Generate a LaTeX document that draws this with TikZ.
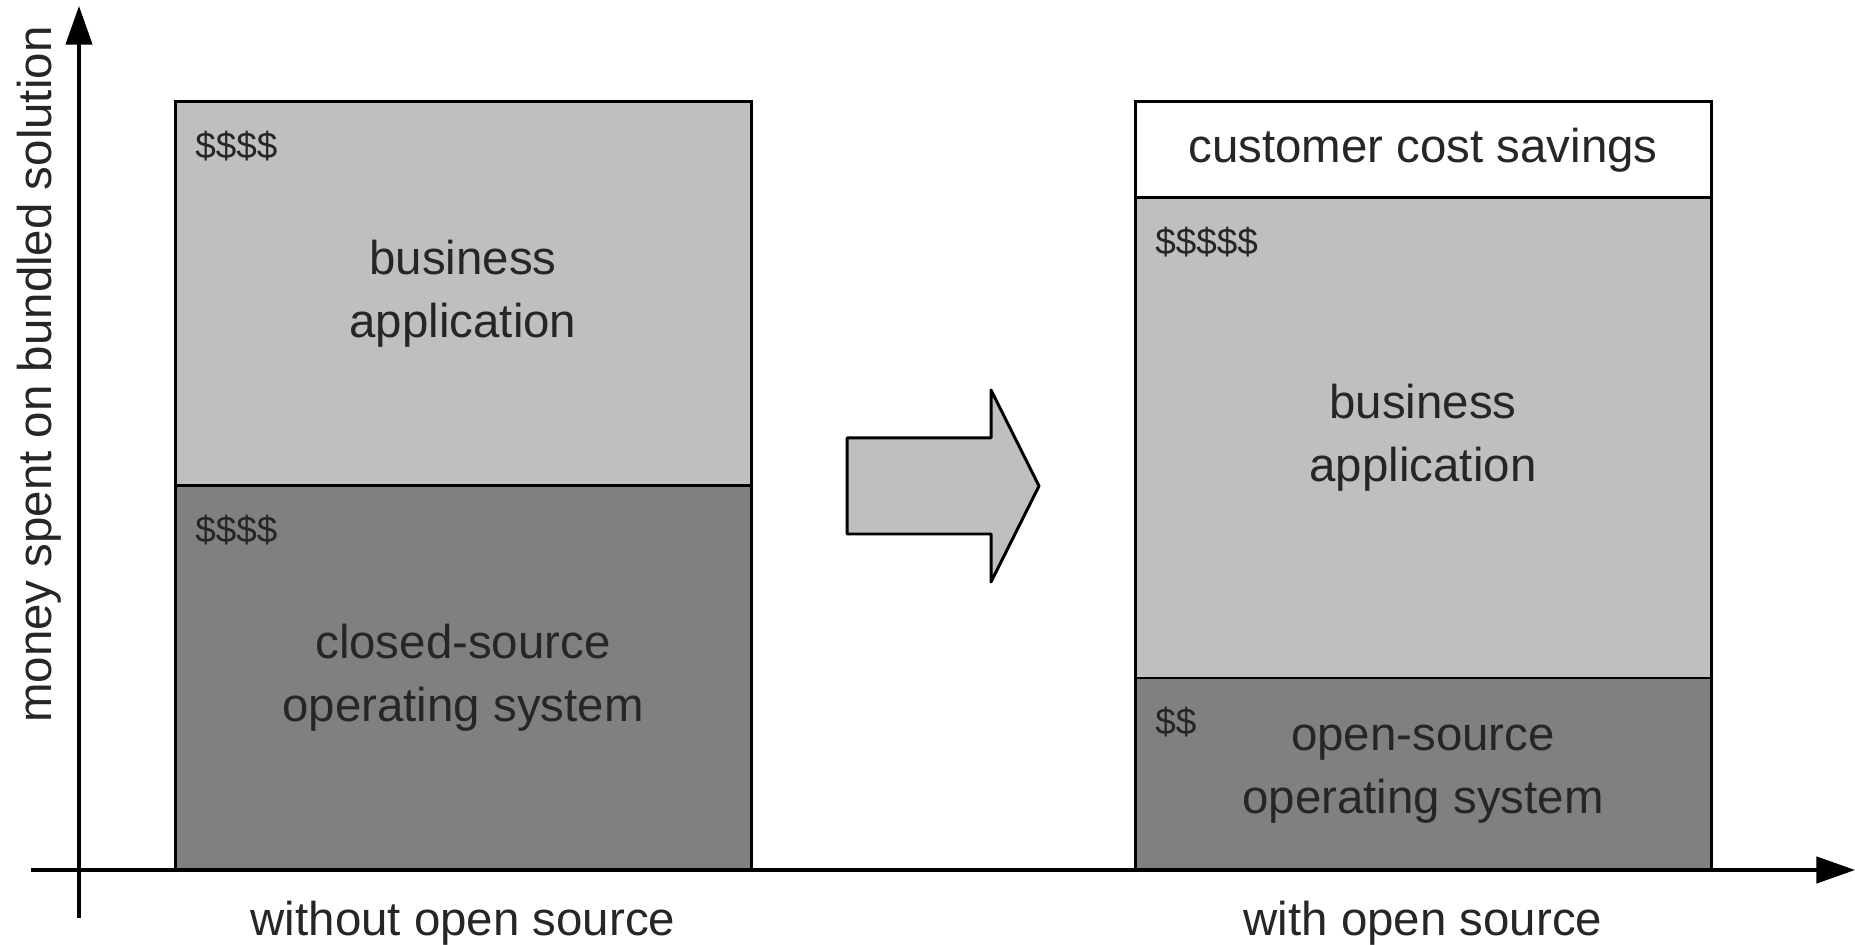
\documentclass[tikz,border=0pt]{standalone}
\usepackage{fontspec}
\setmainfont{Liberation Sans}
\usetikzlibrary{arrows.meta,positioning}
\tikzset{my axis/.style={
  line width=1.9pt,
  -{Triangle[length=22pt,width=15pt]}
  }
}
\tikzset{my box/.style={
  draw,
  line width=1.7pt,
  minimum width=11.52cm,
  inner sep=0pt, outer sep=0pt,
  align=center,
  font=\fontsize{27}{36}\selectfont,
  text=black!85
  }
}
\tikzset{my app box/.style={my box, fill=black!25}}
\tikzset{my os box/.style={my box, fill=black!50}}
\tikzset{my dollars/.style={
  inner sep=0pt,
  font=\fontsize{21}{25}\selectfont,
  text=black!85
  }
}
\tikzset{my label/.style={font=\fontsize{27}{36}\selectfont, text=black!85}}

\begin{document}
\begin{tikzpicture}[x=1.92cm,y=1.92cm]
    \useasboundingbox (-0.823,-0.771) rectangle (18.5,9.0625);

    % stack without open source
    \node[my os box, minimum height=7.68cm, anchor=south west] (Lo) at (1,0) {closed-source\\operating system};
    \node[my app box, minimum height=7.68cm, above=0pt of Lo] (La) {business\\application};
    \node[my dollars, below right=0.58cm and 0.4cm of La.north west] (Lad) {\$\$\$\$};
    \node[my dollars, below right=0.58cm and 0.4cm of Lo.north west] (Lod) {\$\$\$\$};

    % stack with open source
    \node[my os box, minimum height=3.84cm, anchor=south west] (Ro) at (11,0) {open-source\\operating system};
    \node[my app box, minimum height=9.6cm, above=0pt of Ro] (Ra) {business\\application};
    \node[my box, fill=white, minimum height=1.92cm, above=0pt of Ra] (Rs) {customer cost savings};
    \node[my dollars, below right=0.58cm and 0.4cm of Ra.north west] (Rad) {\$\$\$\$\$};
    \node[my dollars, below right=0.58cm and 0.4cm of Ro.north west] (Rod) {\$\$};

    % big arrow in between
    \draw[line width=1.7pt, line join=round, fill=black!25]
        (8,3.5) -- (8,4.5) -- (9.5,4.5) -- (9.5,5) -- (10,4) -- (9.5,3) -- (9.5,3.5) -- cycle;

    % axes
    \draw[my axis] (-0.5,0) -- (18.5,0);
    \draw[my axis] (0,-0.5) -- (0,9);
    \node[my label, rotate=90] (ylab) at (-0.41,5.16) {money spent on bundled solution};
    \node[my label] (Lx) at (4,-0.55) {without open source};
    \node[my label] (Rx) at (14,-0.55) {with open source};

\end{tikzpicture}
\end{document}
